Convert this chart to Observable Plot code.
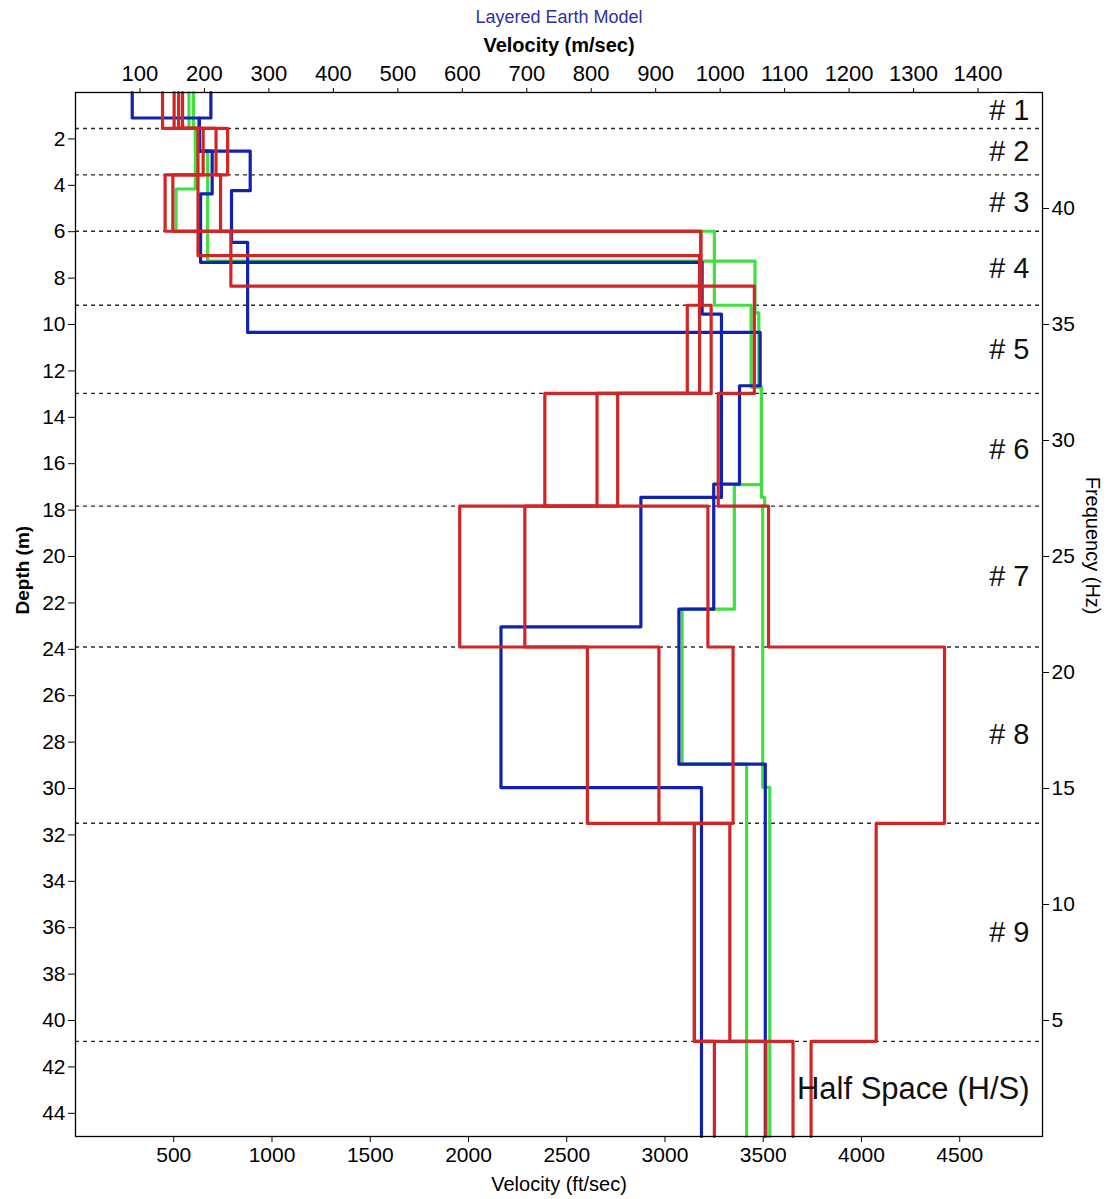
<!DOCTYPE html>
<html>
<head>
<meta charset="utf-8">
<script src="https://cdn.jsdelivr.net/npm/d3@7"></script>
<script src="https://cdn.jsdelivr.net/npm/@observablehq/plot@0.6"></script>
<style>
  body { margin: 0; background: #fff; }
  #chart svg { display: block; }
</style>
</head>
<body>
<div id="chart"></div>
<script>
// Layer boundaries of the reference model (m) and their labels
const layerBounds = [1.55, 3.55, 5.98, 9.17, 12.97, 17.83, 23.9, 31.5, 40.9];
const layerNames = ["# 1", "# 2", "# 3", "# 4", "# 5", "# 6", "# 7", "# 8", "# 9", "Half Space (H/S)"];
const maxDepth = 45;
const maxFreq = 45;
const FT_PER_M = 3.28084;

// Tick values
const velTicksMs = [100, 200, 300, 400, 500, 600, 700, 800, 900, 1000, 1100, 1200, 1300, 1400];
const velTicksFt = [500, 1000, 1500, 2000, 2500, 3000, 3500, 4000, 4500];
const depthTicks = [2, 4, 6, 8, 10, 12, 14, 16, 18, 20, 22, 24, 26, 28, 30, 32, 34, 36, 38, 40, 42, 44];
const freqTicks = [5, 10, 15, 20, 25, 30, 35, 40];

// Velocity profiles: layer top depths (m) and shear velocities (m/sec)
const green1Tops = [0, 1.55, 4.16, 5.98, 9.17, 12.7, 16.9, 22.27, 28.95];
const green1Vels = [176, 186, 156, 991, 1048, 1064, 1022, 941, 1041];
const green2Tops = [0, 1.55, 2.5, 7.27, 9.5, 12.7, 17.45, 17.8, 29.95];
const green2Vels = [183, 186, 205, 1054, 1060, 1064, 1069, 1066, 1077];

const blue1Tops = [0, 1.1, 2.53, 4.23, 6.46, 10.34, 12.64, 16.88, 22.27, 28.95];
const blue1Vels = [88, 192, 271, 242, 267, 1062, 1030, 990, 936, 1070];
const blue2Tops = [0, 1.1, 2.53, 4.37, 7.32, 9.55, 17.45, 23.03, 29.96];
const blue2Vels = [210, 192, 212, 194, 972, 1002, 877, 660, 971];

const red1Tops = [0, 1.55, 3.55, 5.98, 9.17, 12.97, 17.83, 23.9, 31.5, 40.9];
const red1Vels = [135, 236, 139, 970, 949, 728, 981, 1020, 960, 1113];
const red2Tops = [0, 1.55, 3.55, 5.98, 9.17, 12.97, 17.83, 23.9, 31.5, 40.9];
const red2Vels = [153, 198, 151, 970, 986, 841, 596, 905, 960, 991];
const red3Tops = [0, 1.55, 7.03, 12.97, 17.83, 23.9, 31.5, 40.9];
const red3Vels = [166, 190, 968, 809, 697, 794, 1015, 1071];
const red4Tops = [0, 1.55, 3.55, 5.98, 8.35, 12.97, 17.83, 23.9, 31.5, 40.9];
const red4Vels = [160, 218, 225, 241, 1053, 997, 1075, 1348, 1242, 1141];

const GREEN = "#42df42";
const BLUE = "#1222b0";
const RED = "#d02626";

// Turn a layered profile into the corner points of its step outline
function stepPoints(id, tops, vels) {
  const pts = [];
  tops.forEach((top, i) => {
    const bottom = i + 1 < tops.length ? tops[i + 1] : maxDepth;
    pts.push({id, v: vels[i], d: top}, {id, v: vels[i], d: bottom});
  });
  return pts;
}

const greenPts = [
  ...stepPoints("g1", green1Tops, green1Vels),
  ...stepPoints("g2", green2Tops, green2Vels)
];
const bluePts = [
  ...stepPoints("b1", blue1Tops, blue1Vels),
  ...stepPoints("b2", blue2Tops, blue2Vels)
];
const redPts = [
  ...stepPoints("r1", red1Tops, red1Vels),
  ...stepPoints("r2", red2Tops, red2Vels),
  ...stepPoints("r3", red3Tops, red3Vels),
  ...stepPoints("r4", red4Tops, red4Vels)
];

// Label each layer at its mid depth
const layerEdges = [0, ...layerBounds, maxDepth];
const layerLabels = layerNames.map((name, i) => ({name, d: (layerEdges[i] + layerEdges[i + 1]) / 2}));
const numberedLabels = layerLabels.slice(0, 9);
const halfSpaceLabel = layerLabels.slice(9);

const SANS = "'Liberation Sans', Arial, Helvetica, sans-serif";
const NARROW = "'Liberation Sans Narrow', 'Arial Narrow', 'Liberation Sans', Arial, sans-serif";

const chart = Plot.plot({
  width: 1108,
  height: 1199,
  marginTop: 92,
  marginBottom: 63,
  marginLeft: 75,
  marginRight: 66,
  style: {fontFamily: SANS, fontSize: "21px", background: "#fff", color: "#000", overflow: "visible"},
  x: {domain: [0, 1500], label: null},
  y: {domain: [0, maxDepth], reverse: true, label: null},
  marks: [
    Plot.ruleY(layerBounds, {stroke: "#2a2a2a", strokeWidth: 1.4, strokeDasharray: "4,4"}),
    Plot.line(greenPts, {x: "v", y: "d", z: "id", stroke: GREEN, strokeWidth: 3.2, curve: "linear"}),
    Plot.line(bluePts, {x: "v", y: "d", z: "id", stroke: BLUE, strokeWidth: 3.2, curve: "linear"}),
    Plot.line(redPts, {x: "v", y: "d", z: "id", stroke: RED, strokeWidth: 3.2, curve: "linear"}),
    Plot.frame({stroke: "#000", strokeWidth: 1.3}),

    // Velocity in m/sec along the top
    Plot.axisX(velTicksMs, {
      anchor: "top", tickSize: 5, tickPadding: 7, fontSize: 22,
      tickFormat: d => String(d), label: null
    }),
    // Velocity in ft/sec along the bottom
    Plot.axisX(velTicksFt.map(f => f / FT_PER_M), {
      anchor: "bottom", tickSize: 6, tickPadding: 5, fontSize: 21, fontFamily: NARROW,
      tickFormat: d => String(Math.round(d * FT_PER_M)), label: null
    }),
    // Depth on the left
    Plot.axisY(depthTicks, {anchor: "left", tickSize: 7, tickPadding: 3, fontSize: 21, label: null}),
    // Frequency on the right: 0 Hz at the base, 45 Hz at the surface
    Plot.axisY(freqTicks.map(f => maxFreq - f), {
      anchor: "right", tickSize: 6, tickPadding: 3, fontSize: 21,
      tickFormat: d => String(Math.round(maxFreq - d)), label: null
    }),

    // Layer names
    Plot.text(numberedLabels, {
      y: "d", text: "name", frameAnchor: "right", dx: -13, textAnchor: "end",
      fontSize: 29, fill: "#111", stroke: "white", strokeWidth: 14
    }),
    Plot.text(halfSpaceLabel, {
      y: "d", text: "name", frameAnchor: "right", dx: -13, textAnchor: "end",
      fontSize: 31, fill: "#111"
    }),

    // Titles
    Plot.text(["Layered Earth Model"], {
      frameAnchor: "top", dy: -82, text: d => d, fontSize: 18, fill: "#3030a0"
    }),
    Plot.text(["Velocity (m/sec)"], {
      frameAnchor: "top", dy: -55, text: d => d, fontSize: 20, fontWeight: "bold"
    }),
    Plot.text(["Velocity (ft/sec)"], {
      frameAnchor: "bottom", dy: 54, text: d => d, fontSize: 20, fontFamily: NARROW
    }),
    Plot.text(["Depth (m)"], {
      frameAnchor: "left", dx: -53, rotate: -90, text: d => d, fontSize: 19, fontWeight: "bold"
    }),
    Plot.text(["Frequency (Hz)"], {
      frameAnchor: "right", dx: 50, rotate: 90, text: d => d, fontSize: 20
    })
  ]
});

document.getElementById("chart").append(chart);
</script>
</body>
</html>
